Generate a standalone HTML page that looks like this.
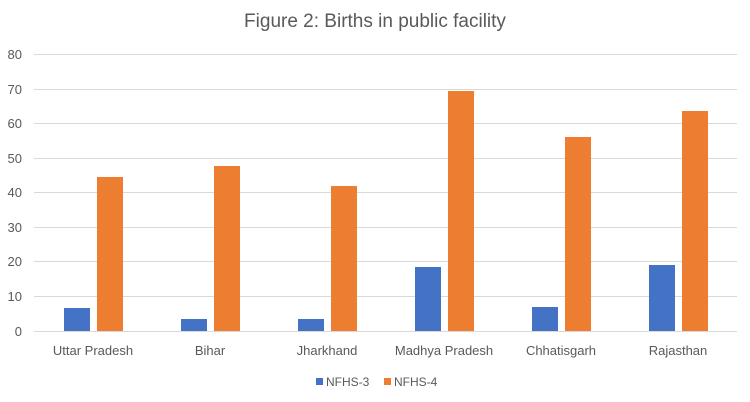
<!DOCTYPE html>
<html><head><style>body{margin:0;background:#fff}svg{display:block}text{font-family:"Liberation Sans",sans-serif}</style></head><body>
<svg width="750" height="402" xmlns="http://www.w3.org/2000/svg">
<rect width="750" height="402" fill="#fff"/>
<text x="375" y="27" text-anchor="middle" font-size="19" fill="#595959">Figure 2: Births in public facility</text>
<g stroke="#d9d9d9" stroke-width="1">
<line x1="34" x2="737" y1="54.5" y2="54.5"/><line x1="34" x2="737" y1="89.5" y2="89.5"/>
<line x1="34" x2="737" y1="123.5" y2="123.5"/><line x1="34" x2="737" y1="158.5" y2="158.5"/>
<line x1="34" x2="737" y1="192.5" y2="192.5"/><line x1="34" x2="737" y1="227.5" y2="227.5"/>
<line x1="34" x2="737" y1="261.5" y2="261.5"/><line x1="34" x2="737" y1="296.5" y2="296.5"/>
<line x1="34" x2="737" y1="331.5" y2="331.5"/>
</g>
<g font-size="13" fill="#595959" text-anchor="end">
<text x="22" y="59">80</text><text x="22" y="94">70</text><text x="22" y="128">60</text>
<text x="22" y="163">50</text><text x="22" y="197">40</text><text x="22" y="232">30</text>
<text x="22" y="266">20</text><text x="22" y="301">10</text><text x="22" y="336">0</text>
</g>
<g fill="#4472c4">
<rect x="64" y="308" width="26" height="23"/>
<rect x="181" y="319" width="26" height="12"/>
<rect x="298" y="319" width="26" height="12"/>
<rect x="415" y="267" width="26" height="64"/>
<rect x="532" y="307" width="26" height="24"/>
<rect x="649" y="265" width="26" height="66"/>
</g>
<g fill="#ed7d31">
<rect x="97" y="177" width="26" height="154"/>
<rect x="214" y="166" width="26" height="165"/>
<rect x="331" y="186" width="26" height="145"/>
<rect x="448" y="91" width="26" height="240"/>
<rect x="565" y="137" width="26" height="194"/>
<rect x="682" y="111" width="26" height="220"/>
</g>
<g font-size="13" fill="#595959" text-anchor="middle">
<text x="93" y="355">Uttar Pradesh</text><text x="210" y="355">Bihar</text>
<text x="327" y="355">Jharkhand</text><text x="444" y="355">Madhya Pradesh</text>
<text x="561" y="355">Chhatisgarh</text><text x="678" y="355">Rajasthan</text>
</g>
<rect x="316" y="378" width="7" height="7" fill="#4472c4"/>
<text x="326" y="386" font-size="12" fill="#595959">NFHS-3</text>
<rect x="384" y="378" width="7" height="7" fill="#ed7d31"/>
<text x="394" y="386" font-size="12" fill="#595959">NFHS-4</text>
</svg>
</body></html>
